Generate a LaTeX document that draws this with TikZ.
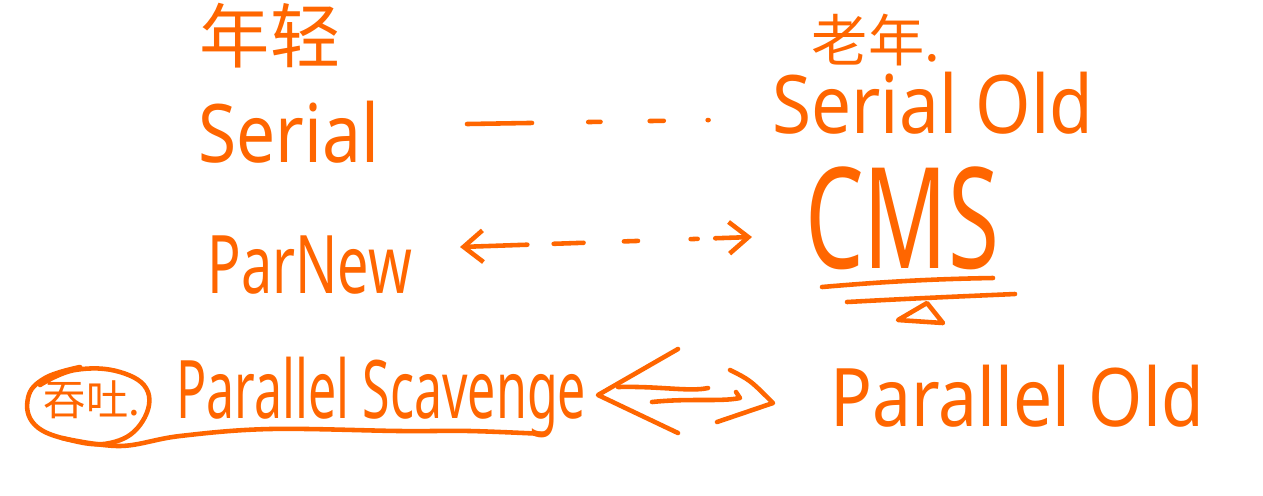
\documentclass[tikz,border=0pt]{standalone}
\usepackage{fontspec}
\setmainfont{Noto Sans}
\newfontfamily\cjk{Noto Sans CJK SC}
\usetikzlibrary{arrows.meta}
\definecolor{ink}{RGB}{255,102,0}
\tikzset{
  hw/.style={text=ink, inner sep=0pt, anchor=base west},
  big/.style={font=\fontsize{46}{46}\selectfont},
  han/.style={text=ink, inner sep=0pt, font=\cjk\fontsize{40}{40}\selectfont},
  pen/.style={draw=ink, line width=2.6pt, line cap=round, line join=round},
  barb/.tip={Straight Barb[length=11pt, width=18pt, line width=2.6pt]}
}
\newcommand{\squeeze}[2]{\scalebox{#1}[1]{#2}}
\begin{document}
\begin{tikzpicture}[x=0.02cm, y=-0.02cm]
\fill[white] (0,0) rectangle (1263,495);
\useasboundingbox (0,0) rectangle (1263,495);

% headings
\node[han] (young) at (270,36) {年轻};
\node[han, font=\cjk\fontsize{32}{32}\selectfont] (old) at (876,40) {老年.};

% young-generation collectors
\node[hw, big] (serial) at (198,162) {\squeeze{0.86}{Serial}};
\node[hw, big] (parnew) at (207,293) {\squeeze{0.69}{ParNew}};
\node[hw, big] (scav) at (176,418) {\squeeze{0.62}{Parallel Scavenge}};

% old-generation collectors
\node[hw, big] (serialold) at (772,133) {\squeeze{0.88}{Serial Old}};
\node[hw, font=\fontsize{80}{80}\selectfont] (cms) at (805,268) {\squeeze{0.66}{CMS}};
\node[hw, big] (parold) at (830,426) {\squeeze{0.86}{Parallel Old}};

% throughput mark
\node[text=ink, inner sep=0pt, font=\cjk\fontsize{24}{24}\selectfont] (tp) at (92,400) {吞吐.};
\draw[pen] plot[smooth, tension=0.7] coordinates {(40,385) (75,370) (120,372) (148,392) (140,425) (110,443) (70,440) (35,425) (28,398) (45,378) (80,367)};

% underline of Parallel Scavenge
\draw[pen] plot[smooth, tension=0.6] coordinates {(62,438) (120,446) (180,436) (270,429) (400,431) (470,431) (545,434)};

% Serial -- Serial Old
\coordinate (s1) at (467,124);
\coordinate (s2) at (712,120);
\draw[pen, dash pattern=on 37pt off 32pt on 7pt off 28pt on 8pt off 25pt on 0.5pt off 20pt] (s1) -- (s2);

% ParNew <-> CMS
\coordinate (p1) at (460,247);
\coordinate (p2) at (752,237);
\draw[pen, dash pattern=on 35pt off 15pt on 17pt off 23pt on 8pt off 30pt on 4pt off 10pt on 30pt, {barb}-{barb}] (p1) -- (p2);

% Parallel Scavenge <-> Parallel Old
\coordinate (l1) at (678,349);
\coordinate (l2) at (598,395);
\coordinate (l3) at (678,433);
\coordinate (r1) at (730,370);
\coordinate (r2) at (773,403);
\coordinate (r3) at (717,422);
\draw[pen] (l1) -- (l2) -- (l3);
\draw[pen] (r1) .. controls (750,380) .. (r2) -- (r3);
\draw[pen] (618,387) .. controls (660,386) and (690,392) .. (708,388);
\draw[pen] (652,402) .. controls (690,398) and (720,402) .. (740,398) -- (736,392);

% CMS underlines and triangle
\draw[pen] (822,287) .. controls (880,282) and (930,279) .. (993,278);
\draw[pen] (847,302) .. controls (920,298) and (970,296) .. (1015,294);
\draw[pen] (927,303) -- (898,320) -- (943,323) -- cycle;
\end{tikzpicture}
\end{document}
